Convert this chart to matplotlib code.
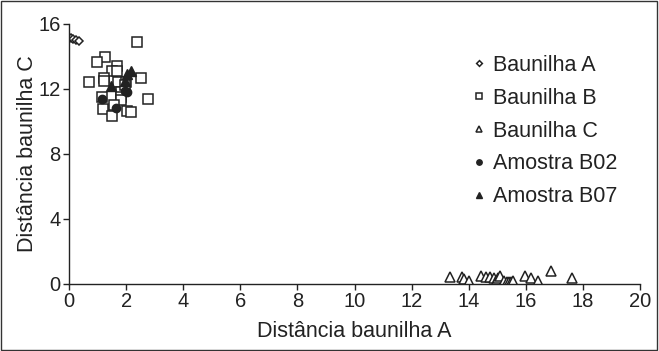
import matplotlib.pyplot as plt
from matplotlib.patches import Rectangle

plt.rcParams['font.family'] = ['Liberation Sans', 'DejaVu Sans']

# Baunilha A
a_x = [0.05, 0.15, 0.25, 0.35]
a_y = [15.1, 15.05, 15.0, 14.95]

# Baunilha B
b_x = [2.37, 1.24, 0.98, 1.69, 1.5, 1.69, 1.21, 1.21, 2.5, 0.71, 1.7, 2.0,
       1.8, 1.8, 1.14, 2.75, 1.8, 1.58, 1.18, 2.03, 2.17, 1.5, 1.95]
b_y = [14.9, 13.95, 13.64, 13.4, 13.1, 13.1, 12.7, 12.5, 12.7, 12.45, 12.45, 12.4,
       11.8, 11.5, 11.5, 11.4, 11.3, 11.0, 10.77, 10.67, 10.56, 10.36, 12.25]

# Baunilha C
c_x = [13.33, 13.78, 13.85, 14.0, 14.44, 14.6, 14.74, 14.9, 14.97, 15.03, 15.1,
       15.25, 15.33, 15.4, 15.48, 15.55, 15.99, 16.2, 16.44, 16.88, 17.62]
c_y = [0.41, 0.41, 0.3, 0.2, 0.5, 0.4, 0.4, 0.35, 0.2, 0.35, 0.5,
       0.2, 0.1, 0.1, 0.15, 0.2, 0.5, 0.35, 0.2, 0.82, 0.35]

# Amostra B02
b02_x = [1.14, 1.63, 2.03, 1.95]
b02_y = [11.4, 10.83, 11.8, 11.9]

# Amostra B07
b07_x = [1.48, 2.03, 2.17, 1.95]
b07_y = [12.16, 12.9, 13.1, 12.5]

fig = plt.figure(figsize=(6.59, 3.51), dpi=100)
fig.patches.append(Rectangle((0.002, 0.003), 0.995, 0.994, transform=fig.transFigure,
                             fill=False, edgecolor='#333333', linewidth=1.0))
ax = fig.add_axes([0.105, 0.191, 0.866, 0.741])

ec = '#222222'
ax.plot(a_x, a_y, linestyle='none', marker='D', markersize=4.5, markerfacecolor='white',
        markeredgecolor=ec, markeredgewidth=1.1, label='Baunilha A')
ax.plot(b_x, b_y, linestyle='none', marker='s', markersize=7.5, markerfacecolor='white',
        markeredgecolor=ec, markeredgewidth=1.1, label='Baunilha B')
ax.plot(c_x, c_y, linestyle='none', marker='^', markersize=7.5, markerfacecolor='white',
        markeredgecolor=ec, markeredgewidth=1.1, label='Baunilha C')
ax.plot(b02_x, b02_y, linestyle='none', marker='o', markersize=6, color=ec,
        label='Amostra B02')
ax.plot(b07_x, b07_y, linestyle='none', marker='^', markersize=6.5, color=ec,
        label='Amostra B07')

ax.set_xlim(0, 20)
ax.set_ylim(0, 16)
ax.set_xticks(range(0, 21, 2))
ax.set_yticks([0, 4, 8, 12, 16])
ax.spines['top'].set_visible(False)
ax.spines['right'].set_visible(False)
for s in ['left', 'bottom']:
    ax.spines[s].set_color(ec)
    ax.spines[s].set_linewidth(1.0)
ax.tick_params(direction='out', length=4, width=1, colors=ec, labelsize=14.5, pad=2)
ax.set_xlabel('Distância baunilha A', fontsize=15.5, color=ec, labelpad=7)
ax.set_ylabel('Distância baunilha C', fontsize=15.5, color=ec, labelpad=0)

leg = ax.legend(loc='upper right', bbox_to_anchor=(0.995, 0.955), frameon=False, fontsize=15.5,
                labelspacing=0.55, handletextpad=0.15, handlelength=1.0, markerscale=0.65)
for t in leg.get_texts():
    t.set_color(ec)

fig.savefig('out.png', dpi=100)
